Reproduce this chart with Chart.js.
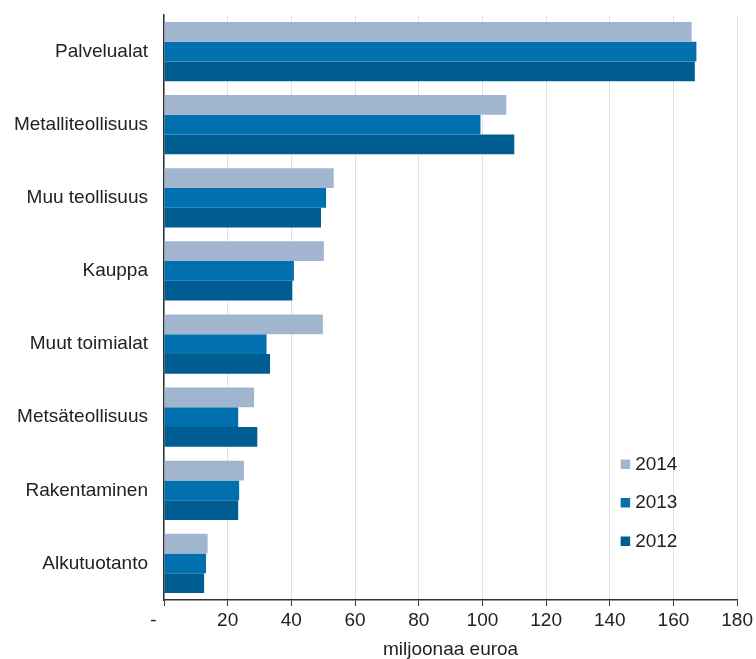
<!DOCTYPE html>
<html>
<head>
<meta charset="utf-8">
<script src="https://cdn.jsdelivr.net/npm/chart.js@4/dist/chart.umd.min.js"></script>
<style>
  html, body { margin: 0; padding: 0; background: #fff; }
  #wrap { width: 756px; height: 659px; }
</style>
</head>
<body>
<div id="wrap"><canvas id="chart" width="756" height="659"></canvas></div>
<script>
// Toimialat (categories) and values, miljoonaa euroa
const categories = ['Palvelualat', 'Metalliteollisuus', 'Muu teollisuus', 'Kauppa',
  'Muut toimialat', 'Metsäteollisuus', 'Rakentaminen', 'Alkutuotanto'];
const values2014 = [165.7, 107.5, 53.3, 50.2, 49.9, 28.3, 25.1, 13.7];
const values2013 = [167.2, 99.4, 50.9, 40.8, 32.2, 23.3, 23.6, 13.2];
const values2012 = [166.7, 110.0, 49.3, 40.3, 33.3, 29.3, 23.3, 12.6];
const xTicks = [0, 20, 40, 60, 80, 100, 120, 140, 160, 180];

const FONT = "'Liberation Sans', Arial, sans-serif";
const TXT = '#222';

// legend drawn inside plot area, bottom right
const innerLegend = {
  id: 'innerLegend',
  afterDraw(chart) {
    const { ctx, chartArea } = chart;
    const x0 = chartArea.right - 116.5;
    const rows = [chartArea.bottom - 136, chartArea.bottom - 97.5, chartArea.bottom - 59];
    ctx.save();
    ctx.font = '19px ' + FONT;
    ctx.textBaseline = 'middle';
    ctx.fillStyle = TXT;
    chart.data.datasets.forEach((ds, i) => {
      ctx.fillStyle = ds.backgroundColor;
      ctx.fillRect(x0, rows[i] - 4.5, 9.5, 9.5);
      ctx.fillStyle = TXT;
      ctx.fillText(ds.label, x0 + 14.5, rows[i] + 0.5);
    });
    ctx.restore();
  }
};

new Chart(document.getElementById('chart'), {
  type: 'bar',
  data: {
    labels: categories,
    datasets: [
      { label: '2014', data: values2014, backgroundColor: '#a2b5cf' },
      { label: '2013', data: values2013, backgroundColor: '#0070af' },
      { label: '2012', data: values2012, backgroundColor: '#005d92' },
    ]
  },
  options: {
    indexAxis: 'y',
    responsive: false,
    animation: false,
    devicePixelRatio: 1,
    layout: { padding: { top: 15, right: 18, left: 0, bottom: 0 } },
    datasets: { bar: { categoryPercentage: 0.81, barPercentage: 1.0, borderWidth: 0 } },
    scales: {
      x: {
        min: 0, max: 180,
        afterBuildTicks: s => { s.ticks = xTicks.map(v => ({ value: v })); },
        afterFit: s => { s.height = 59; },
        grid: { color: '#e2e2e2', lineWidth: 1, tickColor: '#333', tickLength: 6 },
        border: { color: '#333', width: 1.5 },
        ticks: {
          color: TXT, padding: 3, maxRotation: 0,
          font: { family: FONT, size: 19 },
          callback: v => v === 0 ? '-    ' : String(v)
        },
        title: {
          display: true, text: 'miljoonaa euroa', color: TXT,
          font: { family: FONT, size: 19 }, padding: { top: 0, bottom: -2 }
        }
      },
      y: {
        afterFit: s => { s.width = 164; s.paddingTop = 0; s.paddingBottom = 0; },
        grid: { display: false },
        border: { color: '#333', width: 1.5 },
        ticks: { color: TXT, padding: 8, font: { family: FONT, size: 19 } }
      }
    },
    plugins: {
      legend: { display: false },
      tooltip: { enabled: false }
    }
  },
  plugins: [innerLegend]
});
</script>
</body>
</html>
